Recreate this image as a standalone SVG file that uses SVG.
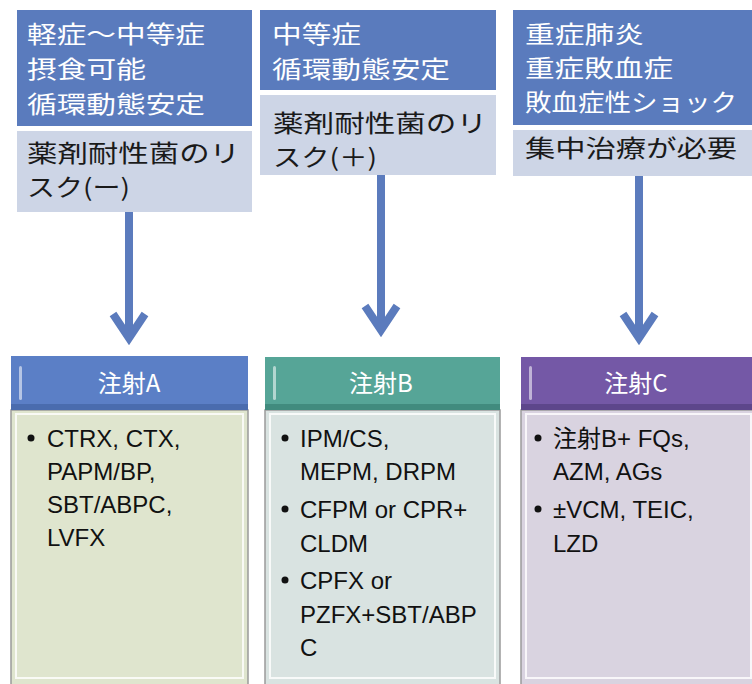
<svg xmlns="http://www.w3.org/2000/svg" width="752" height="684" viewBox="0 0 752 684">
<style>
.dark{fill:#5a7bbd}
.light{fill:#cdd5e6}
.tw{font-family:"Noto Sans CJK JP","Noto Sans",sans-serif;font-size:24px;fill:#ffffff}
.tb{font-family:"Noto Sans CJK JP","Noto Sans",sans-serif;font-size:24px;fill:#1a1a1a}
.hd{font-family:"Noto Sans CJK JP","Noto Sans",sans-serif;font-size:24px;fill:#ffffff;text-anchor:middle}
.bd{font-family:"Liberation Sans","Noto Sans CJK JP",sans-serif;font-size:24px;fill:#111111}
.conn{stroke:#5b7bbd;stroke-width:8;fill:none;stroke-linejoin:miter}
.hl{fill:#ffffff;opacity:0.55}
.edge{fill:none;stroke:#9a9a9a;stroke-width:1.5}
.inner{fill:none;stroke:#ffffff;stroke-width:2;opacity:0.8}
</style>
<rect x="0" y="0" width="752" height="684" fill="#ffffff"/>

<g id="cond1">
<rect class="dark" x="17" y="10" width="235" height="116"/>
<text class="tw" x="27" y="43" textLength="178" lengthAdjust="spacingAndGlyphs">軽症～中等症</text>
<text class="tw" x="27" y="78" textLength="119" lengthAdjust="spacingAndGlyphs">摂食可能</text>
<text class="tw" x="27" y="113" textLength="178" lengthAdjust="spacingAndGlyphs">循環動態安定</text>
<rect class="light" x="17" y="131" width="235" height="81"/>
<text class="tb" x="27" y="162" textLength="213" lengthAdjust="spacingAndGlyphs">薬剤耐性菌のリ</text>
<text class="tb" x="27" y="196" textLength="103" lengthAdjust="spacingAndGlyphs">スク(ー)</text>
</g>

<g id="cond2">
<rect class="dark" x="260" y="10" width="236" height="80"/>
<text class="tw" x="272" y="43" textLength="89" lengthAdjust="spacingAndGlyphs">中等症</text>
<text class="tw" x="272" y="78" textLength="178" lengthAdjust="spacingAndGlyphs">循環動態安定</text>
<rect class="light" x="260" y="95" width="236" height="80"/>
<text class="tb" x="273" y="132" textLength="214" lengthAdjust="spacingAndGlyphs">薬剤耐性菌のリ</text>
<text class="tb" x="273" y="166" textLength="104" lengthAdjust="spacingAndGlyphs">スク(＋)</text>
</g>

<g id="cond3">
<rect class="dark" x="513" y="10" width="239" height="115"/>
<text class="tw" x="525" y="43" textLength="119" lengthAdjust="spacingAndGlyphs">重症肺炎</text>
<text class="tw" x="525" y="77" textLength="148" lengthAdjust="spacingAndGlyphs">重症敗血症</text>
<text class="tw" x="525" y="111" textLength="212" lengthAdjust="spacingAndGlyphs">敗血症性ショック</text>
<rect class="light" x="513" y="130" width="239" height="46"/>
<text class="tb" x="525" y="157" textLength="212" lengthAdjust="spacingAndGlyphs">集中治療が必要</text>
</g>

<g id="connectors">
<line class="conn" x1="129" y1="212" x2="129" y2="336"/>
<polyline class="conn" points="113,314 129,338 145,314"/>
<line class="conn" x1="381" y1="175" x2="381" y2="328"/>
<polyline class="conn" points="365,306 381,330 397,306"/>
<line class="conn" x1="639" y1="176" x2="639" y2="338"/>
<polyline class="conn" points="623,314 639,338 655,314"/>
</g>

<g id="injA">
<rect x="11" y="410" width="237" height="280" fill="#dfe5ce"/>
<rect class="edge" x="11" y="410" width="237" height="280"/>
<rect class="inner" x="16" y="414" width="227" height="264"/>
<rect x="11" y="356" width="237" height="54" fill="#5b7fc6"/>
<rect x="11" y="404" width="237" height="6" fill="#3f5f9e" opacity="0.6"/>
<rect class="hl" x="19" y="366" width="3" height="34" rx="1.5"/>
<text class="hd" x="129" y="392">注射A</text>
<circle cx="31" cy="438" r="3.5" fill="#111"/>
<text class="bd" x="47" y="447">CTRX, CTX,</text>
<text class="bd" x="47" y="480">PAPM/BP,</text>
<text class="bd" x="47" y="513">SBT/ABPC,</text>
<text class="bd" x="47" y="546">LVFX</text>
</g>

<g id="injB">
<rect x="265" y="410" width="235" height="280" fill="#d9e3e1"/>
<rect class="edge" x="265" y="410" width="235" height="280"/>
<rect class="inner" x="270" y="414" width="225" height="264"/>
<rect x="265" y="357" width="235" height="53" fill="#56a597"/>
<rect x="265" y="404" width="235" height="6" fill="#347a6e" opacity="0.6"/>
<rect class="hl" x="273" y="366" width="3" height="34" rx="1.5"/>
<text class="hd" x="381" y="392">注射B</text>
<circle cx="285" cy="438" r="3.5" fill="#111"/>
<text class="bd" x="300" y="447">IPM/CS,</text>
<text class="bd" x="300" y="480">MEPM, DRPM</text>
<circle cx="285" cy="509" r="3.5" fill="#111"/>
<text class="bd" x="300" y="518">CFPM or CPR+</text>
<text class="bd" x="300" y="552">CLDM</text>
<circle cx="285" cy="580" r="3.5" fill="#111"/>
<text class="bd" x="300" y="589">CPFX or</text>
<text class="bd" x="300" y="623">PZFX+SBT/ABP</text>
<text class="bd" x="300" y="656">C</text>
</g>

<g id="injC">
<rect x="521" y="410" width="235" height="280" fill="#d9d3e0"/>
<rect class="edge" x="521" y="410" width="235" height="280"/>
<rect class="inner" x="526" y="414" width="225" height="264"/>
<rect x="521" y="357" width="235" height="53" fill="#7458a6"/>
<rect x="521" y="404" width="235" height="6" fill="#4f3a7a" opacity="0.6"/>
<rect class="hl" x="529" y="366" width="3" height="34" rx="1.5"/>
<text class="hd" x="636" y="392">注射C</text>
<circle cx="538" cy="438" r="3.5" fill="#111"/>
<text class="bd" x="553" y="447">注射B+ FQs,</text>
<text class="bd" x="553" y="480">AZM, AGs</text>
<circle cx="538" cy="509" r="3.5" fill="#111"/>
<text class="bd" x="553" y="518">±VCM, TEIC,</text>
<text class="bd" x="553" y="552">LZD</text>
</g>
</svg>
